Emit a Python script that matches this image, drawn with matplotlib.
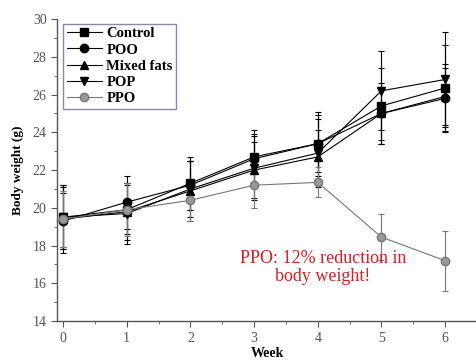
import matplotlib
matplotlib.use("Agg")
import matplotlib.pyplot as plt

weeks = [0, 1, 2, 3, 4, 5, 6]

control = [19.5, 19.9, 21.3, 22.7, 23.4, 25.4, 26.35]
control_sd = [1.6, 1.3, 1.4, 1.4, 1.7, 2.0, 2.3]
poo = [19.3, 20.3, 21.2, 22.6, 23.4, 25.0, 25.8]
poo_sd = [1.5, 1.4, 1.3, 1.3, 1.5, 1.6, 1.8]
mixed = [19.4, 19.8, 20.9, 22.0, 22.7, 25.0, 25.9]
mixed_sd = [1.8, 1.5, 1.6, 1.5, 1.4, 1.4, 1.5]
pop = [19.5, 19.7, 21.0, 22.1, 22.9, 26.2, 26.8]
pop_sd = [1.7, 1.6, 1.5, 1.7, 1.8, 2.1, 2.5]
ppo = [19.4, 19.9, 20.4, 21.2, 21.35, 18.45, 17.2]
ppo_sd = [1.5, 1.4, 1.1, 1.2, 0.8, 1.2, 1.6]

series = [
    ("Control", control, control_sd, "s", "black", "black"),
    ("POO", poo, poo_sd, "o", "black", "black"),
    ("Mixed fats", mixed, mixed_sd, "^", "black", "black"),
    ("POP", pop, pop_sd, "v", "black", "black"),
    ("PPO", ppo, ppo_sd, "o", "#777777", "#999999"),
]

plt.rcParams["font.family"] = ["Liberation Serif", "DejaVu Serif"]

fig = plt.figure(figsize=(4.77, 3.6), dpi=100)
ax = fig.add_axes([0.1195, 0.108, 0.8805, 0.839])

handles = []
for name, vals, sd, marker, col, face in series:
    cont = ax.errorbar(weeks, vals, yerr=sd, marker=marker, color=col, mfc=face, mec=col,
                       ms=6, lw=0.8, elinewidth=0.8, capsize=2.5, capthick=0.8, label=name)
    handles.append(cont[0])

ax.set_xlim(-0.094, 6.47)
ax.set_ylim(14, 30)
ax.set_xticks(weeks)
ax.set_xticks([w + 0.5 for w in weeks], minor=True)
ax.set_yticks(range(14, 31, 2))
ax.set_yticks(range(15, 31, 2), minor=True)

for side in ("top", "right"):
    ax.spines[side].set_visible(False)
for side in ("left", "bottom"):
    ax.spines[side].set_color("#555555")
    ax.spines[side].set_linewidth(1.0)
ax.tick_params(which="both", direction="out", colors="#555555", labelcolor="#555555", labelsize=10)
ax.tick_params(which="major", length=4)
ax.tick_params(which="minor", length=2.5)

ax.set_ylabel("Body weight (g)", fontsize=9.5, fontweight="bold", labelpad=6)
ax.set_xlabel("Week", fontsize=10, fontweight="bold", labelpad=2)

leg = ax.legend(handles, [s[0] for s in series], loc="upper left",
                bbox_to_anchor=(0.015, 0.985),
                prop={"weight": "bold", "size": 10.5}, frameon=True, fancybox=False,
                handlelength=2.4, borderpad=0.25, labelspacing=0.2, handletextpad=0.3,
                borderaxespad=0.0)
leg.get_frame().set_edgecolor("#6b6b9a")
leg.get_frame().set_linewidth(1.0)

ax.text(4.08, 16.85, "PPO: 12% reduction in\nbody weight!", color="#d42020",
        fontsize=13, ha="center", va="center", linespacing=1.1)

fig.savefig("out.png", dpi=100)
